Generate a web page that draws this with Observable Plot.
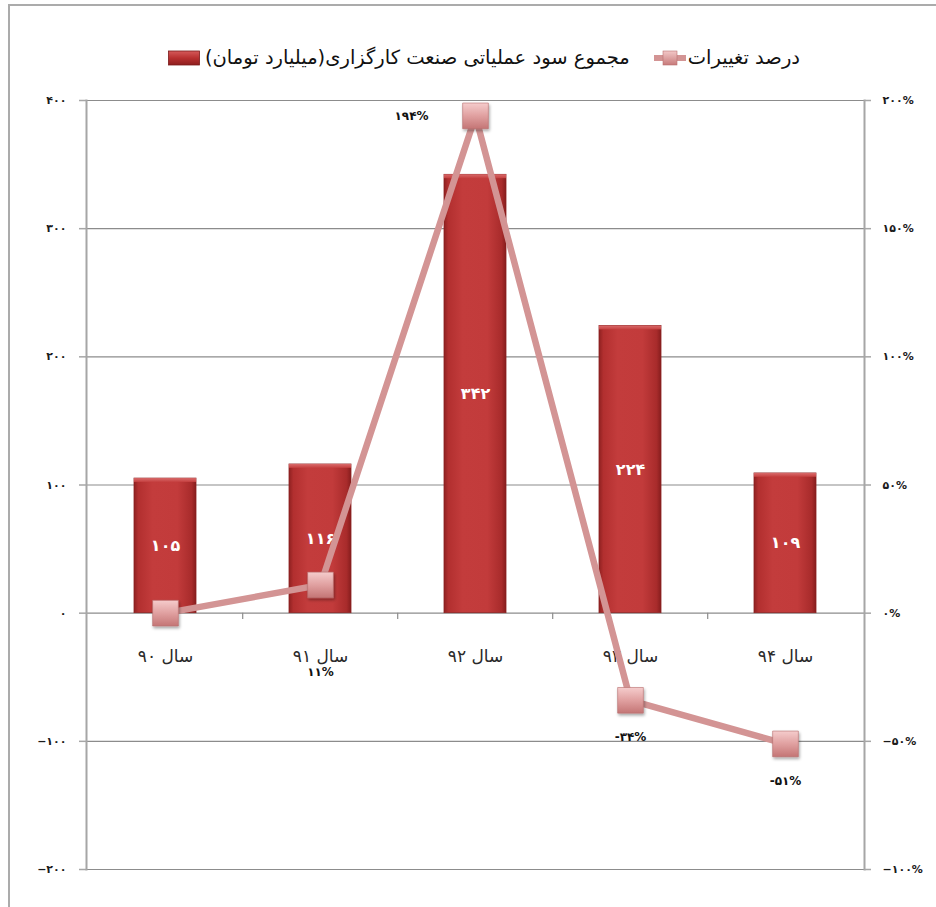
<!DOCTYPE html>
<html>
<head>
<meta charset="utf-8">
<script src="https://cdn.jsdelivr.net/npm/d3@7"></script>
<script src="https://cdn.jsdelivr.net/npm/@observablehq/plot@0.6"></script>
<style>
  html, body { margin: 0; padding: 0; background: #fff; }
  body { width: 936px; height: 907px; position: relative; overflow: hidden; font-family: "DejaVu Sans", sans-serif; }
  #frame { position: absolute; left: 8px; top: 4px; width: 960px; height: 960px; border: 2px solid #ababab; box-sizing: border-box; }
  #chart { position: absolute; left: 0; top: 0; }
  #legend { position: absolute; top: 46px; right: 136px; display: flex; direction: rtl; align-items: center; font-size: 19.5px; color: #111; white-space: nowrap; }
  .item { display: flex; direction: rtl; align-items: center; }
  .gap { width: 24px; }
</style>
</head>
<body>
<div id="frame"></div>
<div id="chart"></div>
<div id="legend">
  <div class="item"><span id="lg1"></span><svg width="32" height="22" style="margin-right:2px"><defs><linearGradient id="mgradL" x1="0" y1="0" x2="0" y2="1"><stop offset="0" stop-color="#f3c8c8"/><stop offset="1" stop-color="#c77a7a"/></linearGradient></defs><line x1="0" y1="11" x2="32" y2="11" stroke="#d39494" stroke-width="6"/><rect x="9" y="4" width="14" height="14" fill="url(#mgradL)" stroke="#b87070" stroke-width="0.6"/></svg></div>
  <div class="gap"></div>
  <div class="item"><span id="lg2"></span><svg width="32" height="18" style="margin-right:5px"><defs><linearGradient id="bgradL" x1="0" y1="0" x2="0" y2="1"><stop offset="0" stop-color="#d55a5a"/><stop offset="0.5" stop-color="#b83030"/><stop offset="1" stop-color="#8e1e1e"/></linearGradient></defs><rect x="0.5" y="2" width="31" height="14" fill="url(#bgradL)" stroke="#7a1a1a" stroke-width="0.8"/></svg></div>
</div>
<script>
// ---- data ----
const years = ["سال ۹۰", "سال ۹۱", "سال ۹۲", "سال ۹۳", "سال ۹۴"];
const profit = [105, 116, 342, 224, 109];
const pctChange = [0, 11, 194, -34, -51];
const leftTicks = [-200, -100, 0, 100, 200, 300, 400];
const rightTicks = [-100, -50, 0, 50, 100, 150, 200];
const seriesBar = "مجموع سود عملیاتی صنعت کارگزاری(میلیارد تومان)";
const seriesLine = "درصد تغییرات";

const fa = s => String(s).replace(/\d/g, d => "۰۱۲۳۴۵۶۷۸۹"[d]);
const faSigned = v => (v < 0 ? "−" : "") + fa(Math.abs(v));

document.getElementById("lg1").textContent = seriesLine;
document.getElementById("lg2").textContent = seriesBar;

const rows = years.map((y, i) => ({year: y, v: profit[i], p: pctChange[i], i}));
const W = 936, H = 907, mL = 86, mR = 72, mT = 100, mB = 38;
const step = (W - mL - mR) / years.length;
const ratio = 2; // right axis (%) -> left axis units

const font = "DejaVu Sans";
const chart = Plot.plot({
  width: W, height: H,
  marginLeft: mL, marginRight: mR, marginTop: mT, marginBottom: mB,
  style: {fontFamily: font, background: "transparent", overflow: "visible"},
  x: {domain: years, paddingInner: 0.6, paddingOuter: 0.3, axis: null},
  y: {domain: [-200, 400], axis: null},
  marks: [
    Plot.ruleY(leftTicks, {stroke: "#8c8c8c", strokeWidth: 1.2}),
    Plot.frame({anchor: "left", stroke: "#a6a6a6", strokeWidth: 2}),
    Plot.frame({anchor: "right", stroke: "#a6a6a6", strokeWidth: 2}),
    Plot.axisY({anchor: "left", label: null, ticks: leftTicks, tickSize: 7, tickPadding: 13, stroke: "#a6a6a6", strokeWidth: 1.5,
      tickFormat: v => faSigned(v), fontSize: 11, fontWeight: "bold", fill: "#1a1a1a"}),
    Plot.axisY({anchor: "right", label: null, ticks: rightTicks.map(v => v * ratio), tickSize: 6, tickPadding: 12, stroke: "#a6a6a6", strokeWidth: 1.5,
      tickFormat: v => faSigned(v / ratio) + "%", fontSize: 11, fontWeight: "bold", fill: "#1a1a1a"}),
    Plot.ruleX(years.slice(1), {x: d => d, dx: -step / 2, y1: 0, y2: -5, stroke: "#8c8c8c", strokeWidth: 1.2}),
    Plot.barY(rows, {x: "year", y: "v", fill: "url(#bgrad)", stroke: "#8a2020", strokeWidth: 0.8}),
    Plot.barY(rows, {x: "year", y1: d => d.v - 3, y2: "v", fill: "url(#tgrad)"}),
    Plot.text(rows, {x: "year", y: d => d.v / 2, text: d => fa(d.v), fill: "#ffffff", fontSize: 16, fontWeight: "bold"}),
    Plot.text(rows, {x: "year", y: 0, dy: 43, text: "year", fill: "#2a2a2a", fontSize: 17}),
    Plot.line(rows, {x: "year", y: d => d.p * ratio, stroke: "#d39494", strokeWidth: 6.5, strokeLinejoin: "miter", strokeMiterlimit: 20}),
    Plot.dot(rows, {x: "year", y: d => d.p * ratio, symbol: "square", r: 14.5, fill: "url(#mgrad)", stroke: "#b56c6c", strokeWidth: 0.6}),
    Plot.text(rows.filter(d => d.i === 1), {x: "year", y: d => d.p * ratio, dy: 87, text: d => fa(d.p) + "%", fontSize: 12, fontWeight: "bold", fill: "#111"}),
    Plot.text(rows.filter(d => d.i === 2), {x: "year", y: d => d.p * ratio, dx: -64, text: d => fa(d.p) + "%", fontSize: 12, fontWeight: "bold", fill: "#111"}),
    Plot.text(rows.filter(d => d.i >= 3), {x: "year", y: d => d.p * ratio, dy: 37, text: d => "-" + fa(Math.abs(d.p)) + "%", fontSize: 12, fontWeight: "bold", fill: "#111"})
  ]
});
document.getElementById("chart").appendChild(chart);

const defs = d3.select(chart).insert("defs", ":first-child");
const bg = defs.append("linearGradient").attr("id", "bgrad").attr("x1", 0).attr("y1", 0).attr("x2", 1).attr("y2", 0);
[[0, "#8f2121"], [0.07, "#b22f2f"], [0.3, "#c33c3c"], [0.7, "#c23b3b"], [0.93, "#a82b2b"], [1, "#861d1d"]]
  .forEach(([o, c]) => bg.append("stop").attr("offset", o).attr("stop-color", c));
const tg = defs.append("linearGradient").attr("id", "tgrad").attr("x1", 0).attr("y1", 0).attr("x2", 0).attr("y2", 1);
[[0, "#d86a6a"], [1, "#c54040"]].forEach(([o, c]) => tg.append("stop").attr("offset", o).attr("stop-color", c));
const mg = defs.append("linearGradient").attr("id", "mgrad").attr("x1", 0).attr("y1", 0).attr("x2", 0).attr("y2", 1);
[[0, "#f5cccc"], [0.5, "#e0a0a0"], [1, "#c47575"]].forEach(([o, c]) => mg.append("stop").attr("offset", o).attr("stop-color", c));
const sh = defs.append("filter").attr("id", "shadow").attr("x", "-30%").attr("y", "-30%").attr("width", "160%").attr("height", "160%");
sh.append("feDropShadow").attr("dx", 1).attr("dy", 2).attr("stdDeviation", 1.5).attr("flood-color", "#000").attr("flood-opacity", 0.35);
d3.select(chart).selectAll('g[aria-label="dot"] path').attr("filter", "url(#shadow)");
</script>
</body>
</html>
